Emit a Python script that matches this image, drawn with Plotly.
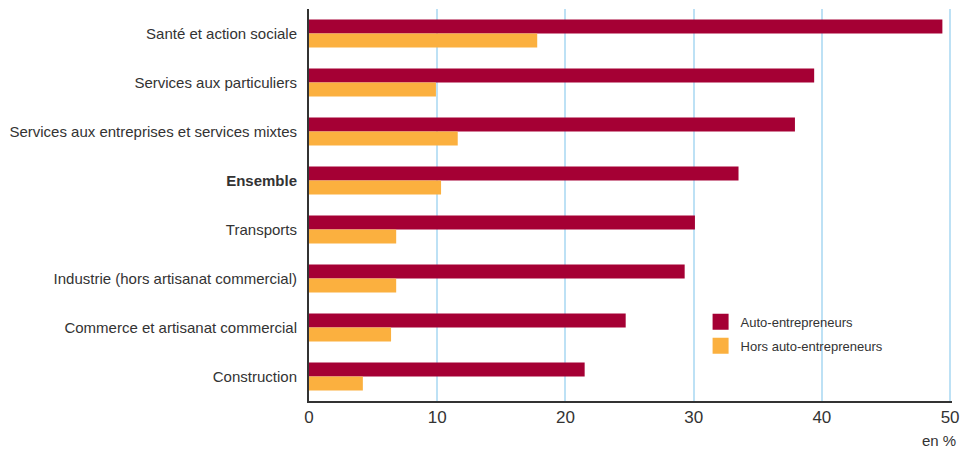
import plotly.graph_objects as go

categories = [
    "Santé et action sociale",
    "Services aux particuliers",
    "Services aux entreprises et services mixtes",
    "<b>Ensemble</b>",
    "Transports",
    "Industrie (hors artisanat commercial)",
    "Commerce et artisanat commercial",
    "Construction",
]
auto_entrepreneurs = [49.4, 39.4, 37.9, 33.5, 30.1, 29.3, 24.7, 21.5]
hors_auto_entrepreneurs = [17.8, 9.9, 11.6, 10.3, 6.8, 6.8, 6.4, 4.2]
x_ticks = [0, 10, 20, 30, 40, 50]
series_names = ["Auto-entrepreneurs", "Hors auto-entrepreneurs"]
series_colors = ["#a50034", "#fbb03f"]

FONT = "Liberation Sans, Arial, sans-serif"

fig = go.Figure()
for name, vals, col in zip(series_names, [auto_entrepreneurs, hors_auto_entrepreneurs], series_colors):
    fig.add_trace(go.Bar(
        y=categories, x=vals, orientation="h", name=name, showlegend=False,
        marker=dict(color=col, line=dict(width=0)),
    ))
# legend entries with larger square swatches
for name, col in zip(series_names, series_colors):
    fig.add_trace(go.Scatter(
        x=[None], y=[None], mode="markers", name=name, legendgroup=name,
        marker=dict(symbol="square", size=16, color=col, line=dict(width=0)),
    ))

fig.update_layout(
    width=967, height=450,
    margin=dict(l=309, r=15, t=9, b=49),
    paper_bgcolor="white", plot_bgcolor="white",
    barmode="group", bargap=0.43, bargroupgap=0,
    font=dict(family=FONT, size=15, color="#333333"),
    showlegend=True,
    legend=dict(
        x=0.609, y=0.24, xanchor="left", yanchor="top",
        bgcolor="rgba(0,0,0,0)", font=dict(size=13, color="#333333"),
        traceorder="grouped", tracegroupgap=4, itemwidth=30,
    ),
    xaxis=dict(
        range=[0, 50.15], tickvals=x_ticks, ticks="", showgrid=True,
        gridcolor="#bde1f5", gridwidth=2, zeroline=False,
        showline=True, linecolor="#333333", linewidth=1.5,
        tickfont=dict(size=17, color="#333333"), automargin=False,
    ),
    yaxis=dict(
        categoryorder="array", categoryarray=categories, autorange="reversed",
        showline=True, linecolor="#333333", linewidth=2, ticks="",
        showgrid=False, ticklabelstandoff=7, automargin=False,
        tickfont=dict(size=15, color="#333333"),
    ),
    annotations=[dict(
        text="en %", xref="paper", yref="paper", x=1.01, y=-0.1,
        xanchor="right", yanchor="middle", showarrow=False,
        font=dict(size=15, color="#333333"),
    )],
)

fig.write_html("out.html", config={"displayModeBar": False},
               post_script="document.body.style.margin='0';")
